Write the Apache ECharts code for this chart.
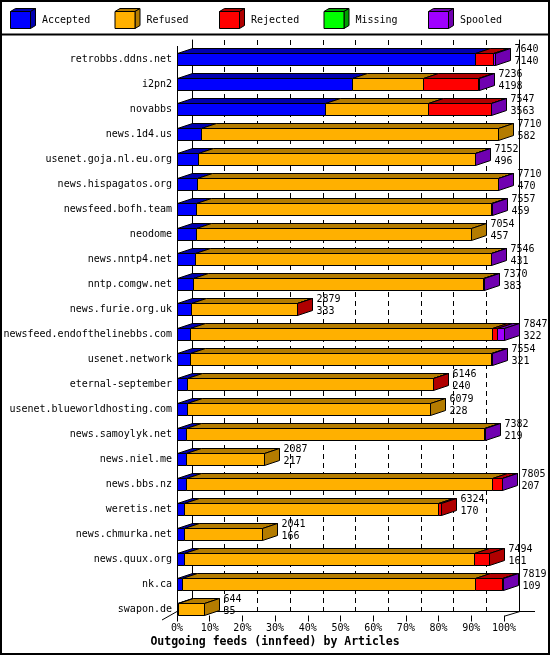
<!DOCTYPE html>
<html>
<head>
<meta charset="utf-8">
<script src="https://cdn.jsdelivr.net/npm/echarts@6/dist/echarts.min.js"></script>
<style>html,body{margin:0;padding:0;background:#fff;}#c{width:550px;height:655px;}</style>
</head>
<body>
<div id="c"></div>
<script>
const categories = ['retrobbs.ddns.net','i2pn2','novabbs','news.1d4.us','usenet.goja.nl.eu.org','news.hispagatos.org','newsfeed.bofh.team','neodome','news.nntp4.net','nntp.comgw.net','news.furie.org.uk','newsfeed.endofthelinebbs.com','usenet.network','eternal-september','usenet.blueworldhosting.com','news.samoylyk.net','news.niel.me','news.bbs.nz','weretis.net','news.chmurka.net','news.quux.org','nk.ca','swapon.de'];
const totals   = [7640,7236,7547,7710,7152,7710,7557,7054,7546,7370,2879,7847,7554,6146,6079,7382,2087,7805,6324,2041,7494,7819,644];
const accepted = [7140,4198,3563,582,496,470,459,457,431,383,333,322,321,240,228,219,217,207,170,166,161,109,35];
const refused  = [0,1700,2460,7128,6646,7230,7088,6597,7105,6952,2536,7245,7223,5896,5851,7153,1870,7348,6084,1875,6973,7050,609];
const rejected = [435,1334,1520,0,0,0,0,0,0,25,10,120,0,10,0,0,0,240,70,0,360,650,0];
const missing  = [0,0,0,0,0,0,0,0,0,0,0,0,0,0,0,0,0,0,0,0,0,0,0];
const spooled  = [65,4,4,0,10,10,10,0,10,10,0,160,10,0,0,10,0,10,0,0,0,10,0];
const seriesNames = ['Accepted','Refused','Rejected','Missing','Spooled'];
const tickValues = [0,10,20,30,40,50,60,70,80,90,100];

const fronts = ['#0000ff','#ffb000','#ff0000','#00ff00','#a000ff'];
const darks  = ['#0000b0','#b47c00','#b00000','#00a000','#7000b0'];
const FONT = '"DejaVu Sans Mono", monospace';

const maxTotal = Math.max.apply(null, totals);
const pct = v => v / maxTotal * 100;
const segs = [accepted, refused, rejected, missing, spooled];
const data = categories.map((c, i) => [i].concat(segs.map(s => pct(s[i]))).concat([totals[i], accepted[i]]));

const DX = 15, DY = 5, H = 12;
const r = v => Math.round(v) + 0.5;

function renderItem(params, api) {
  const ci = api.value(0);
  const vals = [1,2,3,4,5].map(k => api.value(k));
  let last = -1;
  vals.forEach((v, k) => { if (v > 0) last = k; });
  const yc = api.coord([0, ci])[1];
  const yT = r(yc - 6), yB = yT + H;
  const children = [];
  let cum = 0;
  let xEnd = r(api.coord([0, ci])[0]);
  vals.forEach((v, k) => {
    if (v <= 0) return;
    const x0 = r(api.coord([cum, ci])[0]);
    const x1 = r(api.coord([cum + v, ci])[0]);
    children.push({type:'polygon', shape:{points:[[x0,yT],[x1,yT],[x1+DX,yT-DY],[x0+DX,yT-DY]]}, style:{fill:darks[k], stroke:'#000', lineWidth:1}});
    children.push({type:'rect', shape:{x:x0, y:yT, width:x1-x0, height:H}, style:{fill:fronts[k], stroke:'#000', lineWidth:1}});
    if (k === last) {
      children.push({type:'polygon', shape:{points:[[x1,yT],[x1+DX,yT-DY],[x1+DX,yB-DY],[x1,yB]]}, style:{fill:darks[k], stroke:'#000', lineWidth:1}});
      xEnd = x1;
    }
    cum += v;
  });
  children.push({type:'text', x: xEnd + DX + 4, y: yc - 4, style:{text: api.value(6) + '\n' + api.value(7), font: '10px ' + FONT, fill:'#000', align:'left', verticalAlign:'middle', lineHeight: 12}});
  return {type:'group', children: children};
}

// legend graphics
const legendEls = [];
const legendX = [10, 114.5, 219, 323.5, 428];
seriesNames.forEach((n, k) => {
  const x = legendX[k];
  legendEls.push({type:'polygon', shape:{points:[[x+0.5,11.5],[x+20.5,11.5],[x+25.5,8.5],[x+5.5,8.5]]}, style:{fill:darks[k], stroke:'#000', lineWidth:1}});
  legendEls.push({type:'polygon', shape:{points:[[x+20.5,11.5],[x+25.5,8.5],[x+25.5,25.5],[x+20.5,28.5]]}, style:{fill:darks[k], stroke:'#000', lineWidth:1}});
  legendEls.push({type:'rect', shape:{x:x+0.5, y:11.5, width:20, height:17}, style:{fill:fronts[k], stroke:'#000', lineWidth:1}});
  legendEls.push({type:'text', x:x+32, y:20, style:{text:n, font:'10px ' + FONT, fill:'#000', verticalAlign:'middle'}});
});

const chart = echarts.init(document.getElementById('c'), null, {renderer:'canvas'});
chart.setOption({
  backgroundColor:'#fff',
  animation:false,
  title:{text:'Outgoing feeds (innfeed) by Articles', left:'center', top:636, padding:0,
    textStyle:{fontFamily:FONT, fontWeight:'bold', fontSize:11.5, color:'#000'}},
  grid:[
    {left:177, top:46.5, width:327, height:575},
    {left:192, top:40, width:327, height:571}
  ],
  xAxis:[
    {gridIndex:0, type:'value', min:0, max:100, interval:10,
     axisLine:{show:false}, splitLine:{show:false},
     axisTick:{show:true, inside:true, length:6, lineStyle:{color:'#000'}},
     axisLabel:{margin:2, formatter: v => v + '%', fontFamily:FONT, fontSize:10, color:'#000'}},
    {gridIndex:1, type:'value', min:0, max:100, interval:10,
     axisLine:{show:false}, axisTick:{show:false}, axisLabel:{show:false},
     splitLine:{show:true, lineStyle:{color:'#000', type:[5,4], width:1}}}
  ],
  yAxis:[
    {gridIndex:0, type:'category', data:categories, inverse:true,
     axisLine:{show:false}, axisTick:{show:false},
     axisLabel:{margin:5, fontFamily:FONT, fontSize:10, color:'#000'}},
    {gridIndex:1, type:'category', data:categories, inverse:true, position:'left',
     axisLine:{show:true, lineStyle:{color:'#000'}}, axisTick:{show:false}, axisLabel:{show:false}},
    {gridIndex:1, type:'category', data:categories, inverse:true, position:'right',
     axisLine:{show:true, lineStyle:{color:'#000'}}, axisTick:{show:false}, axisLabel:{show:false}}
  ],
  series:[{
    type:'custom', xAxisIndex:0, yAxisIndex:0, renderItem:renderItem, data:data, clip:false,
    encode:{x:[1,2,3,4,5], y:0}, z:5
  }],
  graphic:[
    {type:'rect', shape:{x:1, y:1, width:548, height:653}, style:{fill:null, stroke:'#000', lineWidth:2}, z:100},
    {type:'line', shape:{x1:0, y1:34.5, x2:550, y2:34.5}, style:{stroke:'#000', lineWidth:2}, z:100},
    {type:'line', shape:{x1:177.5, y1:46, x2:177.5, y2:612}, style:{stroke:'#000', lineWidth:1}, z:1},
    {type:'line', shape:{x1:177, y1:611.5, x2:535, y2:611.5}, style:{stroke:'#000', lineWidth:1}, z:1},
    {type:'line', shape:{x1:162, y1:620, x2:177, y2:611.5}, style:{stroke:'#000', lineWidth:1}, z:1},
    {type:'line', shape:{x1:505, y1:616, x2:520, y2:611.5}, style:{stroke:'#000', lineWidth:1}, z:1}
  ].concat(legendEls.map(e => Object.assign({z:100}, e)))
});
</script>
</body>
</html>
